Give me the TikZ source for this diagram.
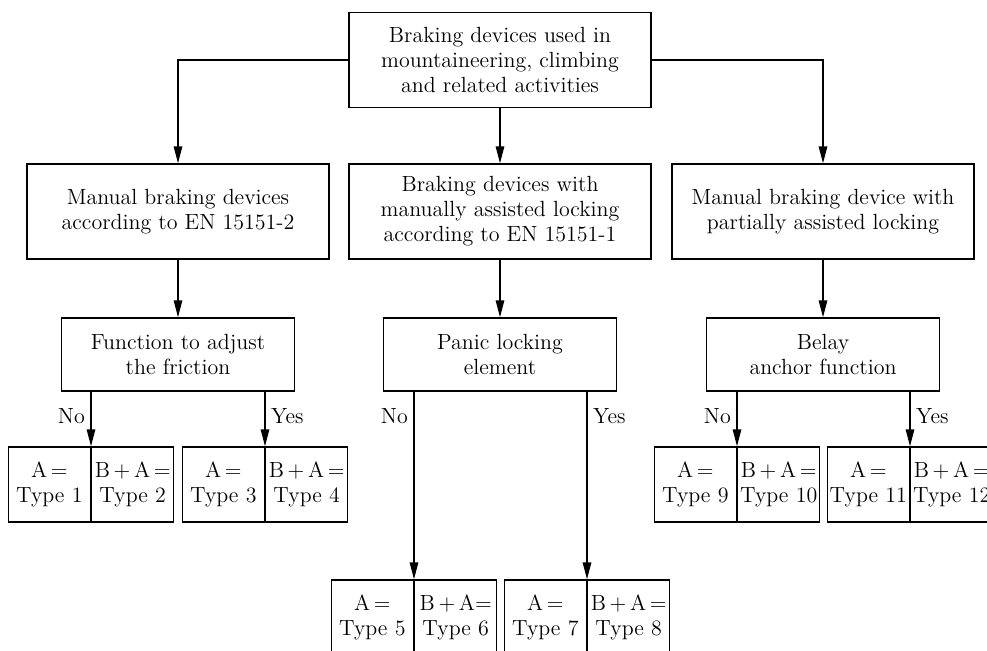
\documentclass[tikz,border=0pt]{standalone}
\usetikzlibrary{arrows.meta}
\tikzset{
    box/.style={draw, line width=0.8pt, align=center, inner sep=0pt,
        minimum width=6.04cm, minimum height=1.9cm},
    askbox/.style={draw, line width=0.8pt, align=center, inner sep=0pt,
        minimum width=4.66cm, minimum height=1.46cm},
    typebox/.style={draw, line width=0.8pt, align=center, inner sep=0pt,
        text width=1.64cm, minimum width=1.64cm, minimum height=1.5cm},
    arr/.style={line width=0.8pt, -{Triangle[length=0.34cm,width=0.17cm]}}
}
\begin{document}
\begin{tikzpicture}[x=0.02cm, y=-0.02cm, font=\fontsize{12.5}{14.2}\selectfont]
    \useasboundingbox (0,0) rectangle (987,650);
    \clip (0,0) rectangle (987,650);
    % top and second row
    \node[box] (top) at (500,60) {Braking devices used in\\mountaineering, climbing\\and related activities};
    \node[box] (manual) at (178,211.5) {Manual braking devices\\according to EN 15151-2};
    \node[box] (assisted) at (500,211.5) {Braking devices with\\manually assisted locking\\according to EN 15151-1};
    \node[box] (partial) at (823,211.5) {Manual braking device with\\partially assisted locking};
    \draw[arr] (top.west) -| (manual.north);
    \draw[arr] (top.south) -- (assisted.north);
    \draw[arr] (top.east) -| (partial.north);
    % third row
    \node[askbox] (friction) at (178,354.5) {Function to adjust\\the friction};
    \node[askbox] (panic) at (500,354.5) {Panic locking\\element};
    \node[askbox] (belay) at (823,354.5) {Belay\\anchor function};
    \draw[arr] (manual) -- (friction);
    \draw[arr] (assisted) -- (panic);
    \draw[arr] (partial) -- (belay);
    % type boxes, split at \x
    \foreach \x/\y/\a/\b/\sep in {91/484.5/1/2/\,, 265/484.5/3/4/\,, 414/617.5/5/6/{}, 587/617.5/7/8/\,,
            737/484.5/9/10/\,, 910/484.5/11/12/\,} {
        \node[typebox, anchor=east] (type\a) at (\x,\y) {A\,=\\Type \a};
        \node[typebox, anchor=west] (type\b) at (\x,\y) {B\,+\,A\sep=\\Type \b};
    }
    % yes / no branches
    \foreach \ask/\no/\yes in {friction/1/3, panic/5/7, belay/9/11} {
        \draw[arr] (type\no.north east |- \ask.south) -- (type\no.north east);
        \draw[arr] (type\yes.north east |- \ask.south) -- (type\yes.north east);
        \node[left] (no\no) at ([yshift=-24*0.02cm]type\no.north east |- \ask.south) {No};
        \node[right] (yes\yes) at ([yshift=-24*0.02cm]type\yes.north east |- \ask.south) {Yes};
    }
\end{tikzpicture}
\end{document}
